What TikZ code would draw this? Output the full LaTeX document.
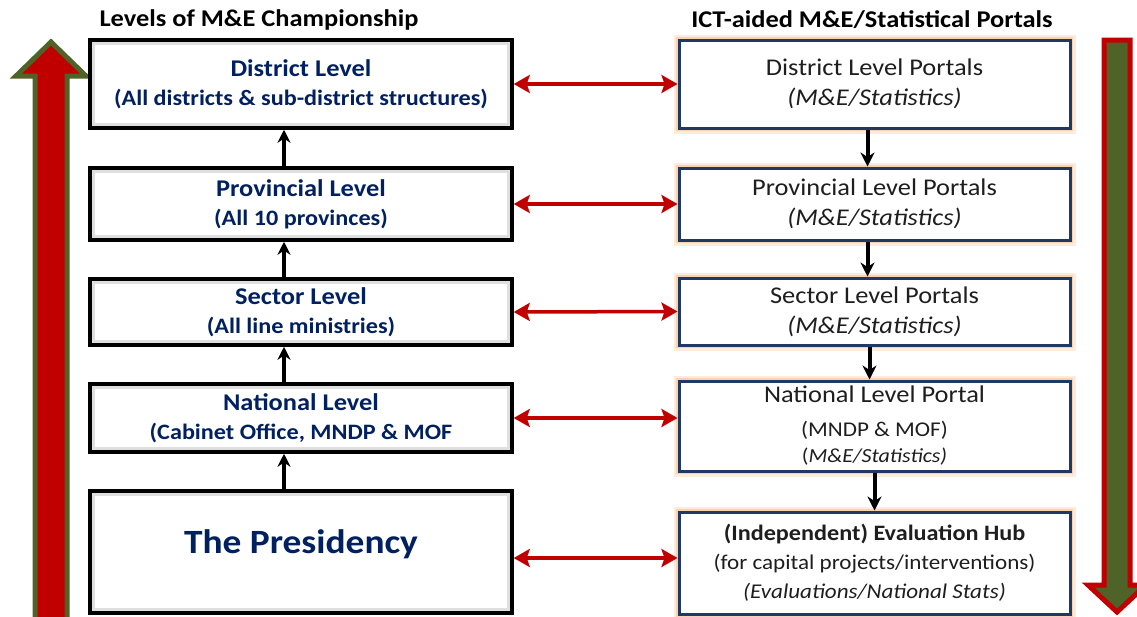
\documentclass[tikz,border=0pt]{standalone}
\usepackage{fontspec}
\setmainfont{Carlito}[FakeStretch=1.1]
\usetikzlibrary{arrows.meta,positioning,calc}

\definecolor{navy}{HTML}{002060}
\definecolor{portalblue}{HTML}{1F3864}
\definecolor{darkred}{HTML}{C00000}
\definecolor{armgreen}{HTML}{4F6228}
\definecolor{glow}{HTML}{F9C79C}
\definecolor{inktext}{HTML}{1E1E1E}

\tikzset{
  levelbox/.style={draw=black, line width=3.5pt, fill=white, minimum width=422pt,
    text=navy, align=center, font=\bfseries\fontsize{22}{29}\selectfont},
  portalbox/.style={draw=portalblue, line width=3pt, fill=white, minimum width=391pt,
    text=inktext, align=center, font=\fontsize{24}{30}\selectfont,
    preaction={draw=glow!35, line width=11pt},
    preaction={draw=glow!80, line width=6pt}},
  heading/.style={font=\bfseries\fontsize{24}{28}\selectfont},
  uplink/.style={line width=3.5pt, -{Stealth[length=13pt,width=13pt]}},
  downlink/.style={draw=black, line width=4pt, -{Stealth[length=14pt,width=14pt]}},
  portlink/.style={line width=3.5pt, darkred,
    {Stealth[length=16pt,width=18pt,inset=3pt]}-{Stealth[length=16pt,width=18pt,inset=3pt]}}
}

\begin{document}
\begin{tikzpicture}[x=1pt,y=-1pt]
  \useasboundingbox (0,0) rectangle (1137,616);

  % big side arrows
  \filldraw[fill=darkred, draw=armgreen, line width=5pt, line join=miter]
    (51,42) -- (86,76) -- (67,76) -- (67,625) -- (35,625) -- (35,76) -- (16,76) -- cycle;
  \filldraw[fill=armgreen, draw=darkred, line width=5pt, line join=miter]
    (1104,40) -- (1130,40) -- (1130,585) -- (1146,585) -- (1117,612) -- (1088,585) -- (1104,585) -- cycle;

  % headings
  \node[heading] (lefthead) at (259,20) {Levels of M\&E Championship};
  \node[heading] (righthead) at (872,20) {ICT-aided M\&E/Statistical Portals};

  % levels of championship
  \node[levelbox, minimum height=88pt] (district) at (301,84)
    {{\fontsize{24}{29}\selectfont District Level}\\ (All districts \& sub-district structures)};
  \node[levelbox, minimum height=72pt] (provincial) at (301,204)
    {{\fontsize{24}{29}\selectfont Provincial Level}\\ (All 10 provinces)};
  \node[levelbox, minimum height=66pt] (sector) at (301,312)
    {{\fontsize{24}{29}\selectfont Sector Level}\\ (All line ministries)};
  \node[levelbox, minimum height=68pt] (national) at (301,418)
    {{\fontsize{24}{29}\selectfont National Level}\\ (Cabinet Office, MNDP \& MOF};
  \node[levelbox, minimum height=122pt, font=\bfseries\fontsize{34}{40}\selectfont] (presidency) at (301,552)
    {\raisebox{20pt}{The Presidency}};

  \foreach \lvl in {district,provincial,sector,national,presidency}
    \draw[gray!25, line width=3pt] ([shift={(5pt,-5pt)}]\lvl.north west) rectangle ([shift={(-5pt,5pt)}]\lvl.south east);

  % portals
  \node[portalbox, minimum height=88pt] (distportal) at (874.5,84)
    {District Level Portals\\ \textit{(M\&E/Statistics)}};
  \node[portalbox, minimum height=72pt] (provportal) at (874.5,204)
    {Provincial Level Portals\\ \textit{(M\&E/Statistics)}};
  \node[portalbox, minimum height=67pt] (sectportal) at (874.5,311.5)
    {Sector Level Portals\\ \textit{(M\&E/Statistics)}};
  \node[portalbox, minimum height=90pt] (natportal) at (874.5,426)
    {National Level Portal\\[4pt] {\fontsize{21}{25}\selectfont (MNDP \& MOF)}\\[-4pt] {\fontsize{20}{24}\selectfont (\textit{M\&E/Statistics)}}};
  \node[portalbox, minimum height=102pt, font=\fontsize{21}{29}\selectfont] (evalhub) at (874.5,563)
    {{\bfseries\fontsize{22}{29}\selectfont (Independent) Evaluation Hub}\\ (for capital projects/interventions)\\ \textit{(Evaluations/National Stats)}};

  % upward links
  \draw[uplink] ([xshift=-17pt]national.north) -- ([xshift=-17pt]sector.south);
  \draw[uplink] ([xshift=-17pt]sector.north) -- ([xshift=-17pt]provincial.south);
  \draw[uplink] ([xshift=-17pt]provincial.north) -- ([xshift=-17pt]district.south);
  \draw[uplink] ([xshift=-17pt]presidency.north) -- ([xshift=-17pt]national.south);

  % downward portal links
  \draw[downlink] ([xshift=-7pt]distportal.south) -- ([xshift=-7pt]provportal.north);
  \draw[downlink] ([xshift=-7pt]provportal.south) -- ([xshift=-7pt]sectportal.north);
  \draw[downlink] ([xshift=-5pt]sectportal.south) -- ([xshift=-5pt]natportal.north);
  \draw[downlink] ([xshift=0pt]natportal.south) -- ([xshift=0pt]evalhub.north);

  % level to portal links
  \draw[portlink] (district.east) -- (distportal.west);
  \draw[portlink] (provincial.east) -- (provportal.west);
  \draw[portlink] (sector.east) -- (sectportal.west);
  \draw[portlink] (national.east) -- (national.east -| natportal.west);
  \draw[portlink] ([yshift=-6pt]presidency.east) -- ([yshift=-6pt]presidency.east -| evalhub.west);
\end{tikzpicture}
\end{document}
